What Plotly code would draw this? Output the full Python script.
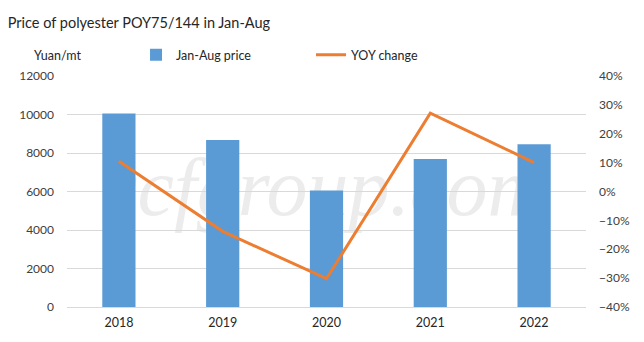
import plotly.graph_objects as go

years = ["2018", "2019", "2020", "2021", "2022"]
price = [10050, 8670, 6050, 7690, 8460]
yoy = [0.105, -0.138, -0.302, 0.271, 0.100]

left_ticks = [0, 2000, 4000, 6000, 8000, 10000, 12000]
right_ticks = [-0.4, -0.3, -0.2, -0.1, 0, 0.1, 0.2, 0.3, 0.4]

FONT = "Lato, Roboto, Arial, sans-serif"
TICK_COLOR = "#404040"

fig = go.Figure()
fig.add_trace(go.Bar(x=years, y=price, name="Jan-Aug price",
                     marker=dict(color="#5B9BD5", line=dict(width=0)),
                     yaxis="y"))
fig.add_trace(go.Scatter(x=years, y=yoy, name="YOY change", mode="lines",
                         line=dict(color="#ED7D31", width=3),
                         yaxis="y2"))

fig.add_shape(type="rect", xref="paper", yref="paper", x0=0.04, x1=0.95, y0=0.2, y1=0.91,
              line=dict(width=0), fillcolor="rgba(0,0,0,0)", layer="below",
              label=dict(text="ccfgroup.com",
                         font=dict(size=82, family="Liberation Serif, serif",
                                   color="#ececec", style="italic"),
                         textposition="middle center"))

fig.update_layout(
    width=644, height=342,
    margin=dict(l=67, r=58, t=76, b=32),
    paper_bgcolor="white", plot_bgcolor="white",
    font=dict(family=FONT, size=12, color=TICK_COLOR),
    title=dict(text="Price of polyester POY75/144 in Jan-Aug", x=0.012, xanchor="left",
               y=0.933, yanchor="middle",
               font=dict(size=14.5, color="#262626", family=FONT)),
    bargap=0.68,
    showlegend=True,
    legend=dict(orientation="h", x=0.133, y=1.09, xanchor="left", yanchor="middle",
                font=dict(size=12.5, color="#262626"), itemwidth=30,
                traceorder="normal", entrywidth=130),
    xaxis=dict(showgrid=False, showline=True, linecolor="#d9d9d9", linewidth=1,
               ticks="", ticklabelstandoff=4,
               tickfont=dict(size=12.5, color="#262626")),
    yaxis=dict(range=[0, 12000], tickvals=left_ticks, tickformat="d",
               showgrid=True, gridcolor="#d9d9d9", gridwidth=1, zeroline=False,
               showline=False, ticks="", ticklen=0, ticklabelstandoff=12,
               tickfont=dict(size=12, color=TICK_COLOR)),
    yaxis2=dict(range=[-0.4, 0.4], tickvals=right_ticks, tickformat=".0%",
                overlaying="y", side="right", showgrid=False, zeroline=False,
                showline=False, ticks="", ticklabelstandoff=12,
                tickfont=dict(size=12, color=TICK_COLOR)),
    annotations=[dict(text="Yuan/mt", xref="paper", yref="paper", x=-0.067, y=1.09,
                      xanchor="left", yanchor="middle", showarrow=False,
                      font=dict(size=12.5, color="#262626", family=FONT))],
)

fig.write_html("out.html")
